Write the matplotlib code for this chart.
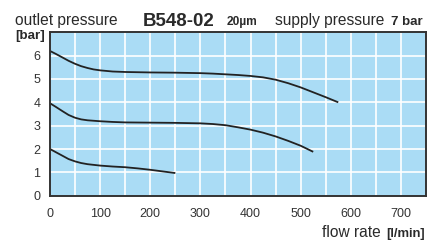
import matplotlib
matplotlib.use("Agg")
import matplotlib.pyplot as plt

plt.rcParams['font.family'] = ['Liberation Sans', 'DejaVu Sans']

# flow rate [l/min] and outlet pressure [bar] for three set pressures
flow_hi = [0, 12, 25, 37, 50, 62, 75, 87, 100, 125, 150, 200, 250, 300, 325, 350,
           375, 400, 425, 450, 475, 500, 525, 550, 575]
p_hi = [6.2, 6.07, 5.92, 5.78, 5.65, 5.55, 5.47, 5.41, 5.37, 5.32, 5.3, 5.28, 5.27,
        5.25, 5.23, 5.2, 5.17, 5.13, 5.07, 4.97, 4.82, 4.64, 4.43, 4.22, 4.0]

flow_mid = [0, 12, 25, 37, 50, 62, 75, 100, 125, 150, 200, 250, 300, 325, 350, 375,
            400, 425, 450, 475, 500, 525]
p_mid = [3.96, 3.8, 3.62, 3.46, 3.34, 3.27, 3.23, 3.19, 3.16, 3.14, 3.13, 3.12, 3.1,
         3.07, 3.02, 2.93, 2.83, 2.7, 2.54, 2.35, 2.14, 1.88]

flow_lo = [0, 12, 25, 37, 50, 62, 75, 100, 125, 150, 175, 200, 225, 250]
p_lo = [2.0, 1.86, 1.71, 1.57, 1.47, 1.4, 1.35, 1.29, 1.25, 1.22, 1.17, 1.11, 1.04, 0.97]

x_ticks = [0, 100, 200, 300, 400, 500, 600, 700]
y_ticks = [0, 1, 2, 3, 4, 5, 6]

fig = plt.figure(figsize=(4.41, 2.40), dpi=100)
ax = fig.add_axes([50/441, 1-195.7/240, 376/441, (195.7-32.3)/240])
ax.set_facecolor('#aadcf5')
ax.set_xlim(0, 750)
ax.set_ylim(0, 7)

for v in range(50, 750, 50):
    ax.axvline(v, color='white', lw=1.2, zorder=1)
for v in range(1, 7):
    ax.axhline(v, color='white', lw=1.2, zorder=1)

for fx, py in [(flow_hi, p_hi), (flow_mid, p_mid), (flow_lo, p_lo)]:
    ax.plot(fx, py, color='#222222', lw=1.3, zorder=3, solid_capstyle='butt')

ax.set_xticks(x_ticks)
ax.set_yticks(y_ticks)
ax.tick_params(length=0, labelsize=9, colors='#333333')
ax.tick_params(axis='x', pad=9)
ax.tick_params(axis='y', pad=7)
for s in ax.spines.values():
    s.set_color('#333333')
    s.set_linewidth(1.4)
    s.set_zorder(4)

def ft(x, y, s, **kw):
    fig.text(x/441, 1-y/240, s, va='baseline', color='#2a2a2a', **kw)

ft(15, 25, 'outlet pressure', fontsize=11.2)
ft(143, 26, 'B548-02', fontsize=13.5, fontweight='bold')
ft(227, 25, '20µm', fontsize=8.6, fontweight='bold')
ft(275, 25, 'supply pressure', fontsize=11.2)
ft(391, 25, '7 bar', fontsize=9.5, fontweight='bold')
ft(15, 38.5, '[bar]', fontsize=9.6, fontweight='bold')
ft(322, 237, 'flow rate', fontsize=11.2)
ft(386, 237, '[l/min]', fontsize=9.4, fontweight='bold')

fig.savefig('out.png', dpi=100)
